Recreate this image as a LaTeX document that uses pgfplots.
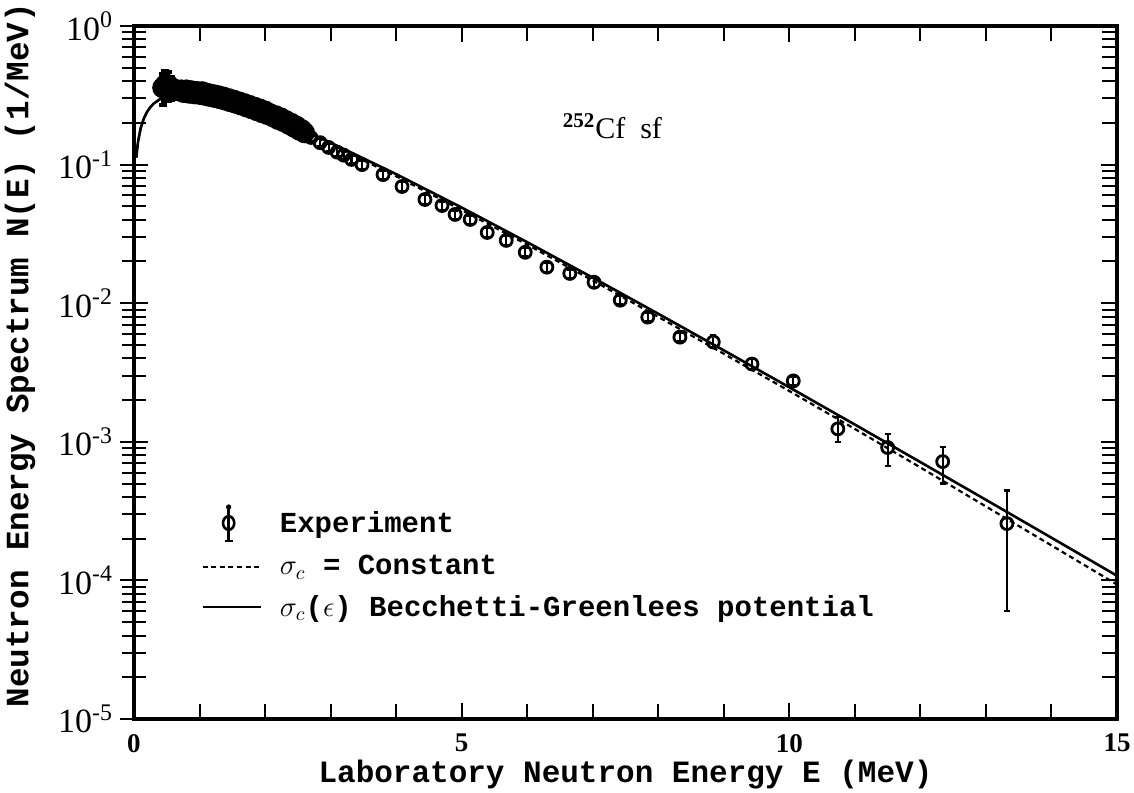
\documentclass[border=0pt]{standalone}
\usepackage{fontspec}
\setmainfont{Liberation Serif}
\newfontfamily\mono{Liberation Mono}
\usepackage{pgfplots}
\usepackage{pgfplotstable}
\pgfplotsset{compat=1.18}
\pgfplotsset{
  longline/.style={legend image code/.code={\draw[##1] (0pt,0pt) -- (29pt,0pt);}},
  expleg/.style={legend image code/.code={%
     \draw[black,line width=1.3pt] (13pt,3.5pt) -- (13pt,8pt);
     \fill[black] (13pt,8pt) circle (1.1pt);
     \draw[black,line width=1.3pt] (13pt,-9pt) -- (13pt,3pt);
     \draw[black,line width=1.3pt] (11pt,-9pt) -- (15pt,-9pt);
     \draw[black,line width=1.3pt] (13pt,0pt) ellipse (2.8pt and 3.4pt);}},
}

% dense low-energy measurements
\pgfplotstableread{
x y ep em
0.44 0.359 0.090 0.090
0.48 0.377 0.100 0.090
0.52 0.376 0.090 0.090
0.56 0.361 0.070 0.070
0.60 0.351 0.050 0.050
0.64 0.346 0.040 0.040
0.68 0.341 0.035 0.035
0.72 0.345 0.035 0.035
0.76 0.332 0.033 0.033
0.80 0.345 0.033 0.033
0.84 0.328 0.032 0.032
0.88 0.340 0.032 0.032
0.92 0.325 0.031 0.031
0.96 0.336 0.031 0.031
1.00 0.322 0.030 0.030
1.04 0.335 0.030 0.030
1.08 0.317 0.030 0.030
1.12 0.326 0.029 0.029
1.16 0.311 0.029 0.029
1.20 0.320 0.028 0.028
1.24 0.305 0.028 0.028
1.28 0.314 0.027 0.027
1.32 0.299 0.027 0.027
1.36 0.307 0.026 0.026
1.40 0.292 0.026 0.026
1.44 0.299 0.025 0.025
1.48 0.284 0.025 0.025
1.52 0.291 0.025 0.025
1.56 0.277 0.024 0.024
1.60 0.283 0.024 0.024
1.64 0.269 0.023 0.023
1.68 0.275 0.023 0.023
1.72 0.261 0.022 0.022
1.76 0.267 0.022 0.022
1.80 0.253 0.022 0.022
1.84 0.259 0.021 0.021
1.88 0.245 0.021 0.021
1.92 0.251 0.020 0.020
1.96 0.237 0.020 0.020
2.00 0.243 0.020 0.020
2.04 0.230 0.019 0.019
2.08 0.232 0.019 0.019
2.12 0.222 0.018 0.018
2.16 0.225 0.018 0.018
2.20 0.212 0.017 0.017
2.24 0.217 0.017 0.017
2.28 0.205 0.016 0.016
2.32 0.207 0.016 0.016
2.36 0.196 0.015 0.015
2.40 0.198 0.015 0.015
2.44 0.187 0.014 0.014
2.48 0.189 0.014 0.014
2.52 0.178 0.013 0.013
2.56 0.178 0.013 0.013
2.60 0.170 0.012 0.012
}\expdense

% separated measurements
\pgfplotstableread{
x y ep em
2.70 0.157 0.010 0.010
2.84 0.144 0.009 0.009
2.97 0.133 0.008 0.008
3.10 0.123 0.008 0.008
3.20 0.117 0.007 0.007
3.32 0.109 0.007 0.007
3.48 0.100 0.007 0.007
3.80 0.0847 0.006 0.006
4.09 0.0695 0.005 0.005
4.44 0.0560 0.004 0.004
4.70 0.0507 0.0035 0.0035
4.90 0.0437 0.003 0.003
5.13 0.0402 0.0028 0.0028
5.39 0.0324 0.0023 0.0023
5.68 0.0284 0.002 0.002
5.97 0.0233 0.0016 0.0016
6.30 0.0182 0.0013 0.0013
6.65 0.0164 0.0011 0.0011
7.02 0.01416 0.001 0.001
7.42 0.01051 0.0007 0.0007
7.84 0.00794 0.00055 0.00055
8.33 0.00569 0.0004 0.0004
8.84 0.00525 0.0006 0.0005
9.43 0.00364 0.0003 0.0003
10.06 0.00275 0.0002 0.0002
10.74 0.00124 0.00027 0.00024
11.50 0.00091 0.00023 0.00024
12.34 0.00072 0.00020 0.00022
13.32 0.000257 0.000188 0.000197
}\expsparse

\begin{document}
\begin{tikzpicture}
\useasboundingbox (-67pt,-36.5pt) rectangle (500pt,359.5pt);
% left axis ticks, centred on the axis line
\begin{axis}[
  at={(0,0)}, anchor=south west,
  scale only axis, width=491.5pt, height=346.5pt,
  xmin=0, xmax=15, ymin=1e-5, ymax=1, ymode=log,
  axis line style={line width=1.8pt},
  ytick={1e-5,1e-4,1e-3,1e-2,1e-1,1},
  minor ytick={2e-5,3e-5,4e-5,5e-5,6e-5,7e-5,8e-5,9e-5,
               2e-4,3e-4,4e-4,5e-4,6e-4,7e-4,8e-4,9e-4,
               2e-3,3e-3,4e-3,5e-3,6e-3,7e-3,8e-3,9e-3,
               2e-2,3e-2,4e-2,5e-2,6e-2,7e-2,8e-2,9e-2,
               0.2,0.3,0.4,0.5,0.6,0.7,0.8,0.9},
  every tick/.style={black, line width=1pt},
  xtick=\empty,
  ytick pos=left, tick align=center,
  major tick length=14pt, minor tick length=12pt,
  yticklabels={10\textsuperscript{-5},10\textsuperscript{-4},10\textsuperscript{-3},10\textsuperscript{-2},10\textsuperscript{-1},10\textsuperscript{0}},
  yticklabel style={font=\fontsize{17}{19}\selectfont, xshift=0pt},
]
\addplot[draw=none, forget plot] coordinates {(1,0.1)};
\end{axis}
\begin{axis}[
  at={(0,0)}, anchor=south west,
  scale only axis, width=491.5pt, height=346.5pt,
  xmin=0, xmax=15, ymin=1e-5, ymax=1, ymode=log,
  axis line style={line width=1.8pt},
  ytick={1e-5,1e-4,1e-3,1e-2,1e-1,1},
  minor ytick={2e-5,3e-5,4e-5,5e-5,6e-5,7e-5,8e-5,9e-5,
               2e-4,3e-4,4e-4,5e-4,6e-4,7e-4,8e-4,9e-4,
               2e-3,3e-3,4e-3,5e-3,6e-3,7e-3,8e-3,9e-3,
               2e-2,3e-2,4e-2,5e-2,6e-2,7e-2,8e-2,9e-2,
               0.2,0.3,0.4,0.5,0.6,0.7,0.8,0.9},
  every tick/.style={black, line width=1pt},
  xtick={0,5,10,15}, xticklabels={0,5,10,15},
  minor xtick={1,2,3,4,6,7,8,9,11,12,13,14},
  ytick pos=right, yticklabels={},
  tick align=inside,
  major tick length=8pt, minor tick length=7.5pt,
  xticklabel style={font=\fontsize{13.5}{15}\selectfont\bfseries, yshift=-4pt},
  xlabel={Laboratory Neutron Energy E (MeV)},
  ylabel={Neutron Energy Spectrum N(E) (1/MeV)},
  xlabel style={font=\mono\bfseries\fontsize{15.5}{18}\selectfont, at={(axis description cs:0.5,-0.08)}, anchor=center},
  ylabel style={font=\mono\bfseries\fontsize{16.3}{18}\selectfont, at={(axis description cs:-0.116,0.525)}, anchor=center},
  legend style={draw=none, fill=none, font=\mono\bfseries\fontsize{14.5}{17}\selectfont,
     at={(axis description cs:0.062,0.316)}, anchor=north west, row sep=4.6pt,
     cells={anchor=west}, /tikz/every odd column/.append style={column sep=7pt}},
  legend cell align=left,
]
\addplot[only marks, mark=o, mark size=3pt, mark options={line width=1.4pt, black}, expleg,
   error bars/.cd, y dir=both, y explicit,
   error bar style={line width=1.1pt, black},
   error mark options={rotate=90, mark size=1.5pt, line width=1.1pt, black}]
   table[x=x, y=y, y error plus=ep, y error minus=em]{\expsparse};
\addlegendentry{Experiment}
\addplot[only marks, mark=o, mark size=4pt, mark options={line width=2.6pt, black}, forget plot,
   error bars/.cd, y dir=both, y explicit,
   error bar style={line width=1.8pt, black},
   error mark options={rotate=90, mark size=2pt, line width=1.8pt, black}]
   table[x=x, y=y, y error plus=ep, y error minus=em]{\expdense};
\addplot[black, line width=1.1pt, dash pattern=on 2.5pt off 1.8pt, longline]
 coordinates {(0.035,0.1123) (0.06,0.1445) (0.1,0.1817) (0.15,0.2152) (0.2,0.2404) (0.25,0.2600) (0.3,0.2754) (0.4,0.2975) (0.5,0.3112) (0.6,0.3189) (0.7,0.3223) (0.8,0.3223) (1.0,0.3153) (1.2,0.3023) (1.5,0.2767) (2,0.2279) (2.5,0.1806) (3,0.1404) (4,0.08236) (5,0.04703) (6,0.02646) (7,0.01459) (8,0.007969) (9,0.004317) (10,0.002324) (11,0.001238) (12,0.0006531) (13,0.0003414) (14,0.0001788) (15,0.0000934)};
\addlegendentry{$\sigma_c$ = Constant}
\addplot[black, line width=1.3pt, longline]
 coordinates {(0.035,0.1123) (0.06,0.1445) (0.1,0.1817) (0.15,0.2152) (0.2,0.2404) (0.25,0.2600) (0.3,0.2754) (0.4,0.2975) (0.5,0.3112) (0.6,0.3189) (0.7,0.3223) (0.8,0.3223) (1.0,0.3153) (1.2,0.3023) (1.5,0.2767) (2,0.2290) (2.5,0.1834) (3,0.1440) (4,0.08535) (5,0.04899) (6,0.02756) (7,0.01528) (8,0.008388) (9,0.004568) (10,0.002472) (11,0.001331) (12,0.0007138) (13,0.0003814) (14,0.0002032) (15,0.000108)};
\addlegendentry{$\sigma_c$($\epsilon$) Becchetti-Greenlees potential}
\node[font=\fontsize{15}{18}\selectfont] at (axis cs:7.3,0.19) {\textsuperscript{\bfseries 252}Cf\ \ sf};
\end{axis}
\end{tikzpicture}
\end{document}
